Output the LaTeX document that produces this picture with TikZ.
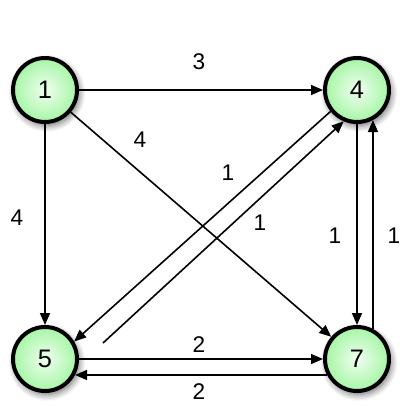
\documentclass[tikz,border=0pt]{standalone}
\usepackage{fontspec}
\setmainfont{Liberation Sans}
\usetikzlibrary{arrows.meta,shadows.blur}
\tikzset{
  vert/.style={circle, draw=black, line width=3pt, minimum size=48pt, inner sep=0pt,
    inner color=green!6!white, outer color=green!45!black!20!green!35!white,
    blur shadow={shadow xshift=1.5pt, shadow yshift=-2.5pt, shadow blur steps=8, shadow blur radius=5pt, shadow opacity=60},
    font=\fontsize{19}{22}\selectfont},
  edge/.style={line width=1.2pt, -{Triangle[length=9pt,width=7.5pt]}},
  lbl/.style={font=\fontsize{17}{20}\selectfont, inner sep=0pt}
}
\begin{document}
\begin{tikzpicture}[x=0.75pt,y=-0.75pt]
\useasboundingbox (0,0) rectangle (399,406);
\node[vert] (n1) at (45,90) {1};
\node[vert] (n4) at (357,90) {4};
\node[vert] (n5) at (45,359) {5};
\node[vert] (n7) at (357,359) {7};
\coordinate (s54) at (103,343);
\draw[edge] (n1) -- (n4);
\draw[edge] (n1) -- (n5);
\draw[edge] (n1) -- (n7);
\draw[edge] (n4) -- (n7);
\draw[edge] (n7.62) -- (n4.298);
\draw[edge] (n5) -- (n7);
\draw[edge] (n7.208) -- (n5.332);
\draw[edge] (n4.219) -- (n5.31);
\draw[edge] (s54) -- (n4.247);
\node[lbl] (l14) at (199,62) {3};
\node[lbl] (l15) at (17,218) {4};
\node[lbl] (l17) at (140,140) {4};
\node[lbl] (l45) at (228,173) {1};
\node[lbl] (l54) at (260,223) {1};
\node[lbl] (l47) at (335,236) {1};
\node[lbl] (l74) at (394,236) {1};
\node[lbl] (l57) at (199,345) {2};
\node[lbl] (l75) at (199,392) {2};
\end{tikzpicture}
\end{document}
